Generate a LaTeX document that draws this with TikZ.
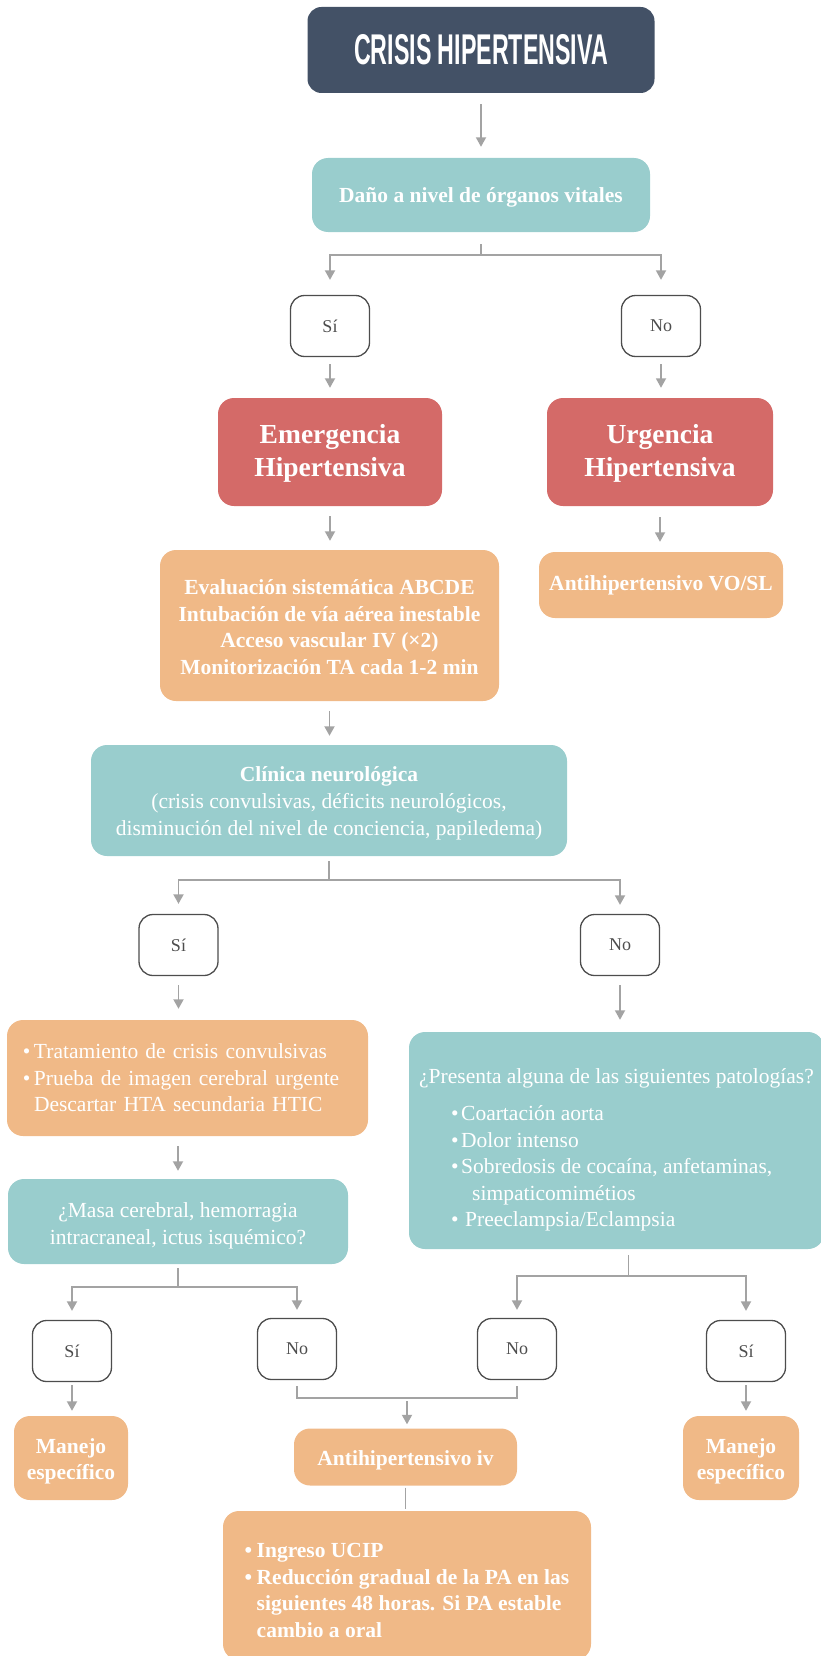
\documentclass[tikz,border=0pt]{standalone}
\usepackage{fontspec}
\usepackage{graphicx}
\setmainfont{Liberation Serif}
\newfontfamily\headfont{Liberation Sans}
\usetikzlibrary{arrows.meta,calc}

\definecolor{cslate}{HTML}{435166}
\definecolor{cteal}{HTML}{99CDCD}
\definecolor{cred}{HTML}{D46A68}
\definecolor{corange}{HTML}{F0B987}
\definecolor{cline}{HTML}{A3A3A3}
\definecolor{cframe}{HTML}{4D4D4D}

% bullet set in a box of fixed width, so that wrapped lines can align with the text
\newcommand\bulitem[1]{\makebox[#1][l]{•}}
% invisible strut that lowers a text block inside its box
\newcommand\lift[1]{\rule{0pt}{#1}}

\tikzset{
  box/.style={rounded corners=16pt, inner sep=0pt, align=center, text=white,
              font=\fontsize{21.5}{26.5}\selectfont},
  strong/.style={font=\fontsize{21.5}{26.5}\selectfont\bfseries},
  tealbox/.style={box, fill=cteal},
  redbox/.style={box, fill=cred, font=\fontsize{27.5}{33}\selectfont\bfseries},
  orangebox/.style={box, fill=corange},
  choice/.style={draw=cframe, line width=1.3pt, fill=white, rounded corners=14pt,
                 minimum width=79pt, minimum height=61pt, inner sep=0pt,
                 text=cframe, font=\fontsize{18}{20}\selectfont},
  link/.style={draw=cline, line width=1.8pt},
  arrow/.style={link, -{Triangle[width=10pt,length=9.5pt]}},
}

\begin{document}
\begin{tikzpicture}[x=1pt,y=-1pt]
\useasboundingbox (0,0) rectangle (821,1656);
\clip (0,0) rectangle (821,1656);

% ---- top of the chart
\node[box, fill=cslate, rounded corners=14pt, minimum width=347pt, minimum height=86pt,
      font=\headfont\bfseries\fontsize{43}{43}\selectfont] (title) at (481,50)
      {\scalebox{0.54}[1]{CRISIS HIPERTENSIVA}};
\node[tealbox, strong, minimum width=338pt, minimum height=74pt] (dano) at (481,195)
      {\lift{19pt}Daño a nivel de órganos vitales};

\node[choice] (si1) at (330,326) {Sí};
\node[choice] (no1) at (661,326) {No};

\node[redbox, minimum width=224pt, minimum height=108pt] (emerg) at (330,452)
      {\lift{22pt}Emergencia\\Hipertensiva};
\node[redbox, minimum width=226pt, minimum height=108pt] (urg) at (660,452)
      {\lift{22pt}Urgencia\\Hipertensiva};

\node[orangebox, strong, minimum width=339pt, minimum height=151pt] (eval) at (329.5,625.5)
      {\lift{18pt}Evaluación sistemática ABCDE\\Intubación de vía aérea inestable\\Acceso vascular IV (×2)\\Monitorización TA cada 1-2 min};
\node[orangebox, strong, minimum width=244pt, minimum height=66pt] (vosl) at (661,585)
      {Antihipertensivo VO/SL};

\node[tealbox, minimum width=476pt, minimum height=111pt,
      font=\fontsize{21.5}{27}\selectfont] (clin) at (329,800.5)
      {\lift{21pt}\textbf{Clínica neurológica}\\(crisis convulsivas, déficits neurológicos,\\disminución del nivel de conciencia, papiledema)};

% ---- neurological branch
\node[choice] (si2) at (178.5,945) {Sí};
\node[choice] (no2) at (620,945) {No};

\node[orangebox, minimum width=361pt, minimum height=116pt, text width=329pt, align=left] (trat) at (187.5,1078)
      {\bulitem{11pt}Tratamiento de crisis convulsivas\\
       \bulitem{11pt}Prueba de imagen cerebral urgente\\
       \hspace*{11pt}Descartar HTA secundaria HTIC};

\node[tealbox, minimum width=415pt, minimum height=217pt, align=left] (pres) at (616.5,1140.5)
      {\lift{34pt}¿Presenta alguna de las siguientes patologías?\\[11pt]
       \hspace*{32pt}\bulitem{10pt}Coartación aorta\\
       \hspace*{32pt}\bulitem{10pt}Dolor intenso\\
       \hspace*{32pt}\bulitem{10pt}Sobredosis de cocaína, anfetaminas,\\
       \hspace*{53pt}simpaticomimétios\\
       \hspace*{32pt}\bulitem{14pt}Preeclampsia/Eclampsia};

\node[tealbox, minimum width=340pt, minimum height=85pt] (masa) at (178,1221.5)
      {\lift{24pt}¿Masa cerebral, hemorragia\\intracraneal, ictus isquémico?};

\node[choice] (si3) at (72,1351) {Sí};
\node[choice] (no3) at (297,1349) {No};
\node[choice] (no4) at (517,1349) {No};
\node[choice] (si4) at (746,1351) {Sí};

\node[orangebox, strong, minimum width=114pt, minimum height=84pt] (man1) at (71,1458)
      {\lift{22pt}Manejo\\específico};
\node[orangebox, strong, minimum width=116pt, minimum height=84pt] (man2) at (741,1458)
      {\lift{22pt}Manejo\\específico};
\node[orangebox, strong, minimum width=223pt, minimum height=57pt] (antiv) at (405.5,1457)
      {\lift{22pt}Antihipertensivo iv};
\node[orangebox, strong, minimum width=368pt, minimum height=149pt, align=left] (final) at (407,1585.5)
      {\lift{24pt}\bulitem{12pt}Ingreso UCIP\\
       \bulitem{12pt}Reducción gradual de la PA en las\\
       \hspace*{12pt}siguientes 48 horas. Si PA estable\\
       \hspace*{12pt}cambio a oral};

% ---- connectors
\draw[arrow, shorten <=11pt, shorten >=11pt] (title.south) -- (dano.north);

\draw[link, shorten <=12pt] (dano.south) -- ++(0,23) coordinate (dsplit);
\draw[arrow, shorten >=15pt] (dsplit) -| (si1.north);
\draw[arrow, shorten >=15pt] (dsplit) -| (no1.north);

\draw[arrow, shorten <=7pt, shorten >=10pt] (si1.south) -- (si1.south |- emerg.north);
\draw[arrow, shorten <=7pt, shorten >=10pt] (no1.south) -- (no1.south |- urg.north);

\draw[arrow, shorten <=10pt, shorten >=9pt] (emerg.south) -- (emerg.south |- eval.north);
\draw[arrow, shorten <=11pt, shorten >=10pt] (urg.south) -- (urg.south |- vosl.north);
\draw[arrow, shorten <=10pt, shorten >=9pt] (eval.south) -- (eval.south |- clin.north);

\draw[link, shorten <=5pt] (clin.south) -- ++(0,24) coordinate (csplit);
\draw[arrow, shorten >=10pt] (csplit) -| (si2.north);
\draw[arrow, shorten >=9pt] (csplit) -| (no2.north);

\draw[arrow, shorten <=9pt, shorten >=11pt] (si2.south) -- (si2.south |- trat.north);
\draw[arrow, shorten <=9pt, shorten >=12pt] (no2.south) -- (no2.south |- pres.north);
\draw[arrow, shorten <=10pt, shorten >=8pt] (trat.south -| masa.north) -- (masa.north);

\draw[link, shorten <=4pt] (masa.south) -- ++(0,23) coordinate (msplit);
\draw[arrow, shorten >=9pt] (msplit) -| (si3.north);
\draw[arrow, shorten >=8pt] (msplit) -| (no3.north);

\draw[link, shorten <=6pt] ([xshift=12pt]pres.south) -- ++(0,27) coordinate (psplit);
\draw[arrow, shorten >=8pt] (psplit) -| (no4.north);
\draw[arrow, shorten >=9pt] (psplit) -| (si4.north);

\draw[arrow, shorten <=3pt, shorten >=5pt] (si3.south) -- (si3.south |- man1.north);
\draw[arrow, shorten <=3pt, shorten >=5pt] (si4.south) -- (si4.south |- man2.north);

\draw[link] ([yshift=-6pt]no3.south) -- ++(0,12) -| ([yshift=-6pt]no4.south);
\coordinate (nojoin) at ($(no3.south)!0.5!(no4.south)$);
\draw[arrow, shorten <=21pt, shorten >=4pt] (nojoin) -- (nojoin |- antiv.north);

\draw[link, shorten <=2pt, shorten >=2pt] (antiv.south) -- (antiv.south |- final.north);
\end{tikzpicture}
\end{document}
